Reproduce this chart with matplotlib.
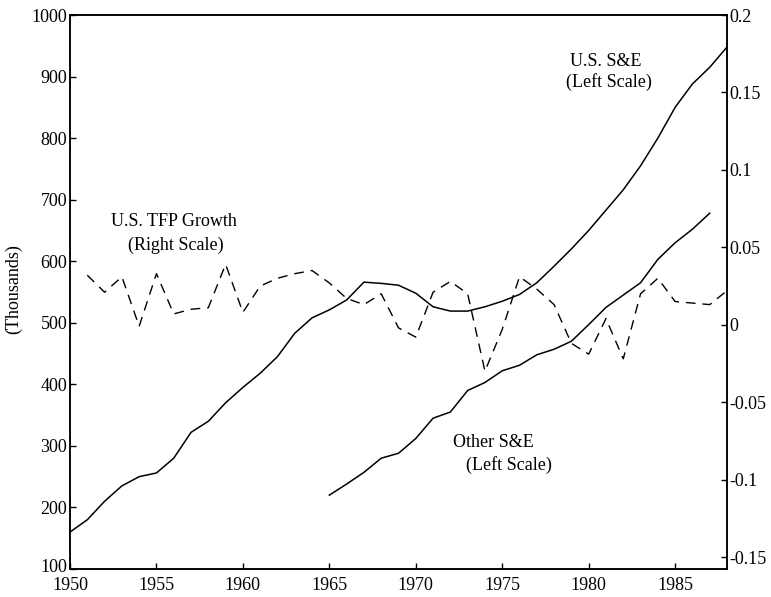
import matplotlib
matplotlib.use("Agg")
import matplotlib.pyplot as plt
import matplotlib.transforms as mtransforms
from matplotlib.ticker import FuncFormatter

plt.rcParams['font.family'] = ['Liberation Serif', 'DejaVu Serif']
plt.rcParams['axes.unicode_minus'] = False

years_us = list(range(1950, 1989))
us_se = [160, 180, 210, 235, 250, 256, 280, 322, 340, 370,
         395, 418, 445, 483, 508, 521, 537, 566, 564, 561,
         548, 526, 519, 519, 526, 535, 546, 565, 592, 620,
         650, 683, 716, 755, 800, 850, 888, 915, 948]

years_other = list(range(1965, 1988))
other_se = [220, 238, 257, 280, 288, 312, 345, 355, 390, 403,
            422, 431, 448, 457, 470, 497, 525, 545, 565, 603,
            630, 652, 678]

years_tfp = list(range(1951, 1989))
tfp = [0.032, 0.021, 0.031, -0.001, 0.033, 0.007, 0.010, 0.011, 0.039, 0.008,
       0.025, 0.030, 0.033, 0.035, 0.027, 0.017, 0.013, 0.020, -0.002, -0.008,
       0.021, 0.028, 0.020, -0.030, -0.003, 0.031, 0.023, 0.013, -0.012, -0.019,
       0.004, -0.022, 0.020, 0.030, 0.015, 0.014, 0.013, 0.022]

fig = plt.figure(figsize=(7.71, 5.97), dpi=100)
ax = fig.add_axes([70/771, 1 - 569/597, (727 - 70)/771, (569 - 15)/597])
ax2 = ax.twinx()

ax.plot(years_us, us_se, color='black', lw=1.1)
ax.plot(years_other, other_se, color='black', lw=1.1)
ax2.plot(years_tfp, tfp, color='black', lw=1.0, dashes=(7, 5))

ax.set_xlim(1950, 1988)
ax.set_ylim(100, 1000)
ax2.set_ylim(-0.1577, 0.2)

ax.set_xticks(range(1950, 1990, 5))
ax.set_yticks(range(100, 1001, 100))
ax2.set_yticks([-0.15, -0.1, -0.05, 0, 0.05, 0.1, 0.15, 0.2])
ax2.yaxis.set_major_formatter(FuncFormatter(lambda v, p: f"{v:g}"))

for a in (ax, ax2):
    a.tick_params(direction='in', length=4, width=1, labelsize=13, pad=2)
    for s in a.spines.values():
        s.set_linewidth(1.1)
ax.tick_params(axis='x', pad=6)

# nudge the bottom "100" label up so it doesn't collide with "1950"
lbl = ax.get_yticklabels()[0]
lbl.set_transform(lbl.get_transform() + mtransforms.ScaledTranslation(0, 3/100, fig.dpi_scale_trans))

ax.set_ylabel("(Thousands)", fontsize=13)
ax.yaxis.set_label_coords(-0.073, 0.505)

ax.text(1956.0, 664, "U.S. TFP Growth", fontsize=13, ha='center', va='center')
ax.text(1956.1, 625, "(Right Scale)", fontsize=13, ha='center', va='center')
ax.text(1978.9, 924, "U.S. S&E", fontsize=13, ha='left', va='center')
ax.text(1978.7, 891, "(Left Scale)", fontsize=13, ha='left', va='center')
ax.text(1972.15, 306, "Other S&E", fontsize=13, ha='left', va='center')
ax.text(1972.9, 269, "(Left Scale)", fontsize=13, ha='left', va='center')

fig.savefig("out.png", dpi=100)
